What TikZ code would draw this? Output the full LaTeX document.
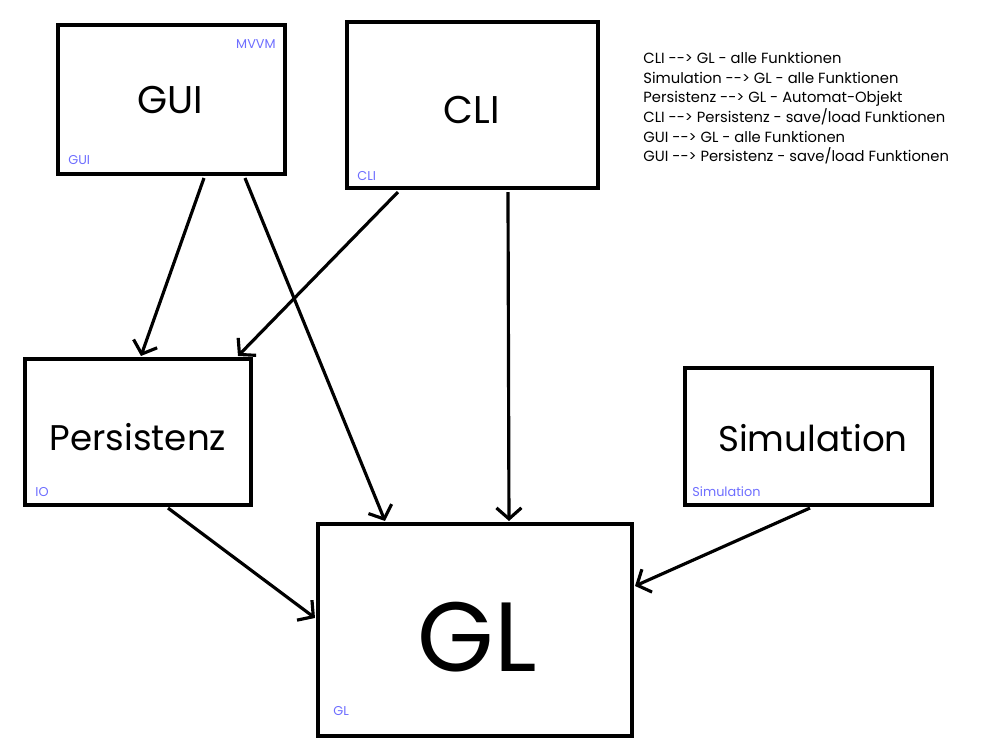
\documentclass[tikz,border=0pt]{standalone}
\usepackage{fontspec}
\setmainfont{Poppins}
\newfontfamily\legfont{Poppins}
\usetikzlibrary{arrows.meta,calc}
\definecolor{lbl}{RGB}{110,110,255}
\begin{document}
\begin{tikzpicture}[x=0.02cm,y=-0.02cm,
  box/.style={draw,line width=2.3pt,inner sep=0pt,fill=white},
  big/.style={font=\fontsize{22}{26}\selectfont,inner sep=0pt},
  bigw/.style={font=\fontsize{20.3}{24}\selectfont,inner sep=0pt},
  tag/.style={font=\fontsize{7.3}{9}\selectfont,text=lbl,inner sep=0pt},
  conn/.style={line width=1.8pt,-{Straight Barb[length=0.22cm,width=0.5cm,line width=1.8pt]}},
  legend/.style={font=\legfont\fontsize{8.4}{11.2}\selectfont,align=left,inner sep=0pt,anchor=north west}]
\useasboundingbox (0,0) rectangle (1000,750);
% boxes
\node[box,minimum width=227*0.02cm,minimum height=149*0.02cm] (gui) at (171.5,99.5) {};
\node[box,minimum width=251*0.02cm,minimum height=166*0.02cm] (cli) at (472.5,105) {};
\node[box,minimum width=226*0.02cm,minimum height=146*0.02cm] (pers) at (138,432) {};
\node[box,minimum width=247*0.02cm,minimum height=137*0.02cm] (sim) at (808.5,436.5) {};
\node[box,minimum width=314*0.02cm,minimum height=212*0.02cm] (gl) at (475,630) {};
% main labels
\node[big] (guit) at (170,100) {GUI};
\node[big] (clit) at (472,110) {CLI};
\node[bigw] (perst) at (138,437) {Persistenz};
\node[bigw] (simt) at (813,438) {Simulation};
\node[inner sep=0pt,font=\fontsize{56}{60}\selectfont] (glt) at (477,637) {GL};
% tags
\node[tag,anchor=east] (mvvm) at (276,44) {MVVM};
\node[tag,anchor=west] (guitag) at (68,160) {GUI};
\node[tag,anchor=west] (clitag) at (357,176) {CLI};
\node[tag,anchor=west] (iotag) at (35,492) {IO};
\node[tag,anchor=west] (simtag) at (692,492) {Simulation};
\node[tag,anchor=west] (gltag) at (333,711) {GL};
% legend
\node[legend] (leg) at (643,52) {CLI --> GL - alle Funktionen\\
Simulation --> GL - alle Funktionen\\
Persistenz --> GL - Automat-Objekt\\
CLI --> Persistenz - save/load Funktionen\\
GUI --> GL - alle Funktionen\\
GUI --> Persistenz - save/load Funktionen};
% connectors
\draw[conn] ($(gui.south west)+(148,2)$) -- ($(pers.north west)+(118,-1)$);
\draw[conn] ($(gui.south west)+(189,2)$) -- ($(gl.north west)+(69,-1)$);
\draw[conn] ($(cli.south west)+(53,2)$) -- ($(pers.north west)+(215,-1)$);
\draw[conn] ($(cli.south west)+(163,2)$) -- ($(gl.north west)+(193,-1)$);
\draw[conn] ($(pers.south west)+(145,1)$) -- ($(gl.north west)+(-1,96)$);
\draw[conn] ($(sim.south west)+(127,1)$) -- ($(gl.north east)+(1,64)$);
\end{tikzpicture}
\end{document}
